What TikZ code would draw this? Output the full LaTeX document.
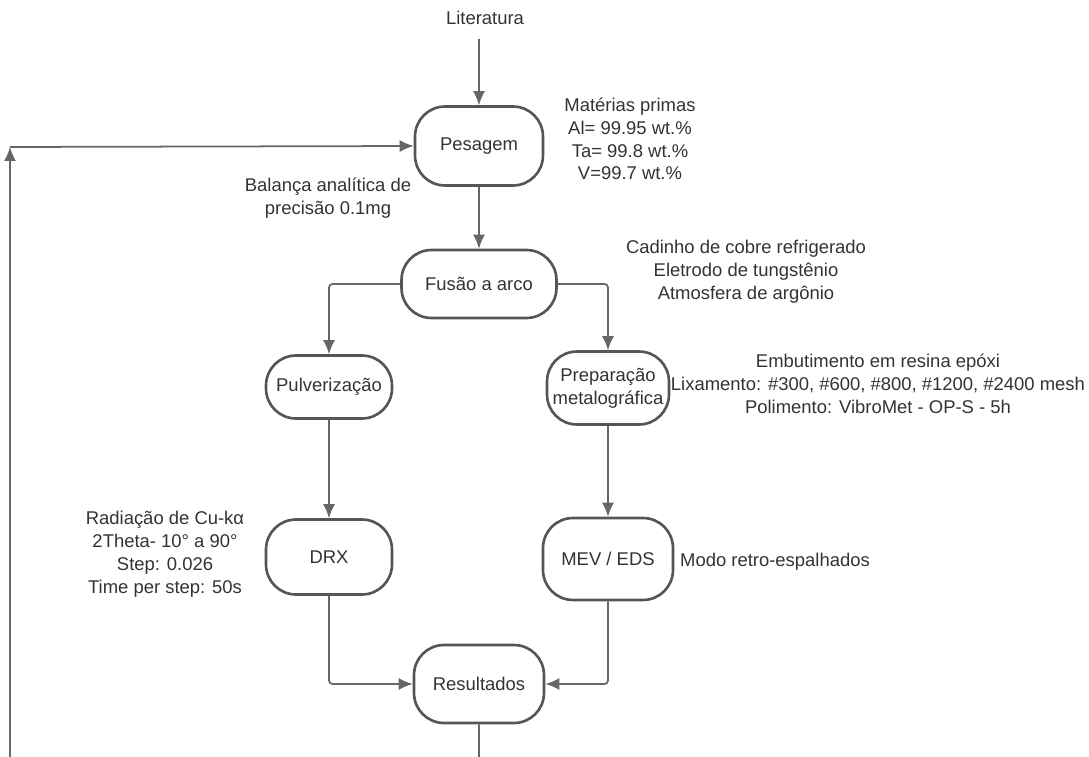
\documentclass[tikz,border=0pt]{standalone}
\usepackage{fontspec}
\setmainfont{Liberation Sans}
\usetikzlibrary{arrows.meta}
\definecolor{boxgray}{HTML}{555555}
\definecolor{linegray}{HTML}{666666}
\definecolor{textgray}{HTML}{333333}

\begin{document}
\begin{tikzpicture}[x=0.02cm, y=-0.02cm, font=\fontsize{10.5}{13}\selectfont,
    stepbox/.style={rectangle, rounded corners=0.6cm, draw=boxgray, line width=1.5pt, align=center, text=textgray},
    note/.style={align=center, text=textgray},
    link/.style={draw=linegray, line width=1pt, rounded corners=2pt, -{Latex[length=0.28cm,width=0.24cm]}}]
    \useasboundingbox (0,0) rectangle (1089,757);

    \node (lit) [note] at (485,18) {Literatura};
    \node (pesagem) [stepbox, minimum width=2.56cm, minimum height=1.58cm] at (479,146) {Pesagem};
    \node (fusao) [stepbox, minimum width=3.1cm, minimum height=1.36cm] at (479,284) {Fusão a arco};
    \node (pulv) [stepbox, minimum width=2.52cm, minimum height=1.26cm] at (329,387) {Pulverização};
    \node (prep) [stepbox, minimum width=2.44cm, minimum height=1.46cm, inner sep=2pt] at (608,388) {Preparação\\metalográfica};
    \node (drx) [stepbox, minimum width=2.52cm, minimum height=1.5cm] at (329,557) {DRX};
    \node (mev) [stepbox, minimum width=2.6cm, minimum height=1.64cm] at (608,559) {MEV / EDS};
    \node (result) [stepbox, minimum width=2.6cm, minimum height=1.56cm] at (479,684) {Resultados};

    % notes beside the steps
    \node (materias) [note] at (630,139) {Matérias primas\\Al= 99.95 wt.\%\\Ta= 99.8 wt.\%\\V=99.7 wt.\%};
    \node (balanca) [note] at (328,198) {Balança analítica de\\precisão 0.1mg};
    \node (cadinho) [note] at (746,272) {Cadinho de cobre refrigerado\\Eletrodo de tungstênio\\Atmosfera de argônio};
    \node (embut) [note] at (878,384) {Embutimento em resina epóxi\\Lixamento: \#300, \#600, \#800, \#1200, \#2400 mesh\\Polimento: VibroMet - OP-S - 5h};
    \node (radiacao) [note] at (165,554) {Radiação de Cu-kα\\2Theta- 10° a 90°\\Step: 0.026\\Time per step: 50s};
    \node (modo) [note] at (775,562) {Modo retro-espalhados};

    \coordinate (loopin) at (10,147);

    \draw [link] (lit.south -| pesagem.north) ++(0,8) -- (pesagem);
    \draw [link] (pesagem) -- (fusao);
    \draw [link] (fusao.west) -| (pulv.north);
    \draw [link] (fusao.east) -| (prep.north);
    \draw [link] (pulv) -- (drx);
    \draw [link] (prep) -- (mev);
    \draw [link] (drx.south) |- (result.west);
    \draw [link] (mev.south) |- (result.east);
    \draw [link] (result.south) -- ++(0,60) -| (loopin);
    \draw [link] (loopin) -- (pesagem.west);
\end{tikzpicture}
\end{document}
